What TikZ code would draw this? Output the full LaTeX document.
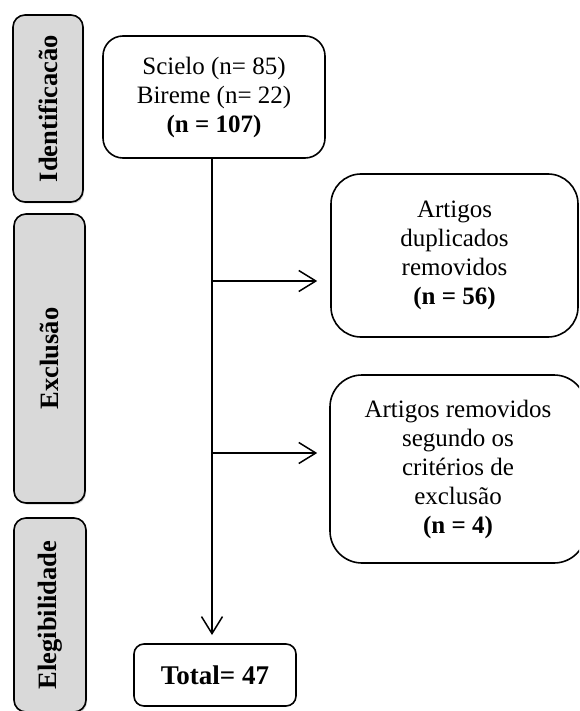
\documentclass[tikz,border=0pt]{standalone}
\usepackage{fontspec}
\setmainfont{Liberation Serif}
\usetikzlibrary{arrows.meta,shadows}
\tikzset{
  phase/.style={draw=black, line width=1.6pt, fill=gray!30, rounded corners=12pt,
    drop shadow={shadow xshift=1.2pt, shadow yshift=-1.5pt, opacity=0.35},
    rotate=90, inner sep=0pt, font=\fontsize{26.5}{30}\selectfont\bfseries},
  flowbox/.style={draw=black, line width=1.6pt, fill=white, align=center,
    inner sep=0pt, font=\fontsize{25}{29}\selectfont},
  conn/.style={line width=1.5pt, -{Straight Barb[length=17pt,width=21pt,line width=1.5pt]}},
}
\begin{document}
\begin{tikzpicture}[x=1pt,y=-1pt]
\useasboundingbox (0,0) rectangle (579,711);
\clip (0,0) rectangle (579,711);
% phase boxes (rotated: minimum width is along text)
\node[phase, minimum width=187pt, minimum height=70pt] (ident) at (48,108.5) {Identificacão};
\node[phase, minimum width=289pt, minimum height=71pt] (excl) at (49.5,358.5) {Exclusão};
\node[phase, minimum width=194pt, minimum height=72pt] (elig) at (50,615) {Elegibilidade};
% flow boxes
\node[flowbox, rounded corners=20pt, minimum width=222pt, minimum height=122pt] (top) at (214,97)
  {Scielo (n= 85)\\Bireme (n= 22)\\\textbf{(n = 107)}};
\node[flowbox, rounded corners=30pt, minimum width=247pt, minimum height=163pt] (dup) at (454.5,255.5)
  {Artigos\\duplicados\\removidos\\\textbf{(n = 56)}};
\node[flowbox, rounded corners=32pt, minimum width=256pt, minimum height=188pt] (crit) at (458,469)
  {Artigos removidos\\segundo os\\critérios de\\exclusão\\\textbf{(n = 4)}};
\node[flowbox, rounded corners=10pt, minimum width=162pt, minimum height=62pt,
  font=\fontsize{27}{30}\selectfont] (total) at (215,675)
  {\textbf{Total= 47}};
% connectors
\coordinate (s) at (212,158);
\coordinate (e) at (212,644);
\coordinate (j1) at (212,281);
\coordinate (j2) at (212,453);
\draw[conn, shorten >=9pt] (s) -- (e);
\draw[conn, shorten >=13pt] (j1) -- (dup.west |- j1);
\draw[conn, shorten >=12pt] (j2) -- (crit.west |- j2);
\end{tikzpicture}
\end{document}
